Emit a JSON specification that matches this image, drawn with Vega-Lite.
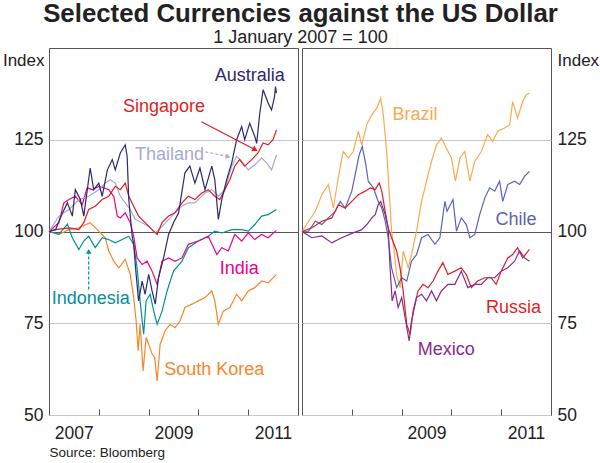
{
  "$schema": "https://vega.github.io/schema/vega-lite/v6.json",
  "description": "Selected currencies against the US dollar, two panels.",
  "padding": {"left": 1, "top": 0, "right": 0, "bottom": 0},
  "background": "white",
  "title": {
    "text": "Selected Currencies against the US Dollar",
    "subtitle": "1 January 2007 = 100",
    "anchor": "middle",
    "fontSize": 25.8,
    "fontWeight": "bold",
    "color": "#222",
    "subtitleFontSize": 18,
    "subtitleColor": "#222",
    "subtitlePadding": 1,
    "offset": 0
  },
  "spacing": 0,
  "datasets": {
    "left": [
      {"c": "South Korea", "d": "2007-01-01", "v": 100},
      {"c": "South Korea", "d": "2007-03-14", "v": 99.2},
      {"c": "South Korea", "d": "2007-05-27", "v": 100.5},
      {"c": "South Korea", "d": "2007-08-08", "v": 101},
      {"c": "South Korea", "d": "2007-10-30", "v": 102.4},
      {"c": "South Korea", "d": "2008-01-01", "v": 100.1},
      {"c": "South Korea", "d": "2008-02-18", "v": 98.3},
      {"c": "South Korea", "d": "2008-03-14", "v": 94.7},
      {"c": "South Korea", "d": "2008-04-20", "v": 91.9},
      {"c": "South Korea", "d": "2008-05-27", "v": 90.1},
      {"c": "South Korea", "d": "2008-07-13", "v": 92.4},
      {"c": "South Korea", "d": "2008-08-19", "v": 88.3},
      {"c": "South Korea", "d": "2008-09-13", "v": 82},
      {"c": "South Korea", "d": "2008-10-01", "v": 75.6},
      {"c": "South Korea", "d": "2008-10-16", "v": 67.5},
      {"c": "South Korea", "d": "2008-10-30", "v": 74.7},
      {"c": "South Korea", "d": "2008-11-21", "v": 62},
      {"c": "South Korea", "d": "2008-12-13", "v": 71.1},
      {"c": "South Korea", "d": "2009-01-01", "v": 69.3},
      {"c": "South Korea", "d": "2009-01-26", "v": 66.6},
      {"c": "South Korea", "d": "2009-02-14", "v": 65.7},
      {"c": "South Korea", "d": "2009-03-04", "v": 59.3},
      {"c": "South Korea", "d": "2009-03-26", "v": 69.3},
      {"c": "South Korea", "d": "2009-05-01", "v": 72.9},
      {"c": "South Korea", "d": "2009-06-07", "v": 74.7},
      {"c": "South Korea", "d": "2009-07-13", "v": 73.8},
      {"c": "South Korea", "d": "2009-08-19", "v": 75.6},
      {"c": "South Korea", "d": "2009-09-24", "v": 79.3},
      {"c": "South Korea", "d": "2009-11-14", "v": 80.2},
      {"c": "South Korea", "d": "2010-01-01", "v": 81.1},
      {"c": "South Korea", "d": "2010-02-18", "v": 82},
      {"c": "South Korea", "d": "2010-04-09", "v": 83.8},
      {"c": "South Korea", "d": "2010-05-01", "v": 81.1},
      {"c": "South Korea", "d": "2010-05-27", "v": 74.7},
      {"c": "South Korea", "d": "2010-07-02", "v": 78.3},
      {"c": "South Korea", "d": "2010-08-19", "v": 79.3},
      {"c": "South Korea", "d": "2010-10-08", "v": 82.9},
      {"c": "South Korea", "d": "2010-11-14", "v": 81.1},
      {"c": "South Korea", "d": "2011-01-01", "v": 83.8},
      {"c": "South Korea", "d": "2011-02-18", "v": 84.7},
      {"c": "South Korea", "d": "2011-04-09", "v": 86.5},
      {"c": "South Korea", "d": "2011-05-27", "v": 86},
      {"c": "South Korea", "d": "2011-07-27", "v": 88.3},

      {"c": "Indonesia", "d": "2007-01-01", "v": 100},
      {"c": "Indonesia", "d": "2007-03-14", "v": 99.2},
      {"c": "Indonesia", "d": "2007-05-16", "v": 102},
      {"c": "Indonesia", "d": "2007-06-21", "v": 98.3},
      {"c": "Indonesia", "d": "2007-08-08", "v": 95.1},
      {"c": "Indonesia", "d": "2007-09-13", "v": 97.4},
      {"c": "Indonesia", "d": "2007-10-19", "v": 98.7},
      {"c": "Indonesia", "d": "2007-12-06", "v": 95.6},
      {"c": "Indonesia", "d": "2008-01-26", "v": 98.3},
      {"c": "Indonesia", "d": "2008-03-14", "v": 97.8},
      {"c": "Indonesia", "d": "2008-05-01", "v": 96.9},
      {"c": "Indonesia", "d": "2008-06-21", "v": 97.8},
      {"c": "Indonesia", "d": "2008-08-08", "v": 98.7},
      {"c": "Indonesia", "d": "2008-09-13", "v": 96.5},
      {"c": "Indonesia", "d": "2008-10-08", "v": 90.1},
      {"c": "Indonesia", "d": "2008-10-30", "v": 81.1},
      {"c": "Indonesia", "d": "2008-11-25", "v": 72},
      {"c": "Indonesia", "d": "2008-12-13", "v": 81.1},
      {"c": "Indonesia", "d": "2009-01-12", "v": 82.9},
      {"c": "Indonesia", "d": "2009-02-07", "v": 78.3},
      {"c": "Indonesia", "d": "2009-03-04", "v": 74.7},
      {"c": "Indonesia", "d": "2009-04-09", "v": 78.3},
      {"c": "Indonesia", "d": "2009-05-16", "v": 83.8},
      {"c": "Indonesia", "d": "2009-07-02", "v": 89.2},
      {"c": "Indonesia", "d": "2009-09-02", "v": 91.9},
      {"c": "Indonesia", "d": "2009-10-19", "v": 95.6},
      {"c": "Indonesia", "d": "2010-01-01", "v": 97.4},
      {"c": "Indonesia", "d": "2010-03-14", "v": 98.7},
      {"c": "Indonesia", "d": "2010-05-01", "v": 100.1},
      {"c": "Indonesia", "d": "2010-06-21", "v": 99.6},
      {"c": "Indonesia", "d": "2010-09-02", "v": 100.5},
      {"c": "Indonesia", "d": "2010-11-14", "v": 100.5},
      {"c": "Indonesia", "d": "2011-01-01", "v": 100.1},
      {"c": "Indonesia", "d": "2011-02-18", "v": 101.9},
      {"c": "Indonesia", "d": "2011-04-09", "v": 104.2},
      {"c": "Indonesia", "d": "2011-05-27", "v": 104.6},
      {"c": "Indonesia", "d": "2011-07-27", "v": 106},

      {"c": "India", "d": "2007-01-01", "v": 100},
      {"c": "India", "d": "2007-03-14", "v": 102.4},
      {"c": "India", "d": "2007-04-20", "v": 107.8},
      {"c": "India", "d": "2007-05-27", "v": 108.7},
      {"c": "India", "d": "2007-07-13", "v": 109.6},
      {"c": "India", "d": "2007-09-02", "v": 107.3},
      {"c": "India", "d": "2007-10-08", "v": 111.9},
      {"c": "India", "d": "2007-11-14", "v": 111.4},
      {"c": "India", "d": "2008-01-01", "v": 112.3},
      {"c": "India", "d": "2008-02-07", "v": 111.9},
      {"c": "India", "d": "2008-03-14", "v": 111.4},
      {"c": "India", "d": "2008-04-20", "v": 109.6},
      {"c": "India", "d": "2008-05-16", "v": 104.2},
      {"c": "India", "d": "2008-06-07", "v": 103.7},
      {"c": "India", "d": "2008-07-13", "v": 105.1},
      {"c": "India", "d": "2008-08-19", "v": 102.4},
      {"c": "India", "d": "2008-09-13", "v": 98.7},
      {"c": "India", "d": "2008-10-08", "v": 92.8},
      {"c": "India", "d": "2008-11-14", "v": 91},
      {"c": "India", "d": "2008-12-20", "v": 91.9},
      {"c": "India", "d": "2009-01-26", "v": 89.2},
      {"c": "India", "d": "2009-03-04", "v": 85.6},
      {"c": "India", "d": "2009-04-09", "v": 91.9},
      {"c": "India", "d": "2009-05-27", "v": 92.8},
      {"c": "India", "d": "2009-07-13", "v": 91.9},
      {"c": "India", "d": "2009-09-02", "v": 92.8},
      {"c": "India", "d": "2009-10-19", "v": 96.5},
      {"c": "India", "d": "2010-01-01", "v": 97.4},
      {"c": "India", "d": "2010-03-14", "v": 98.7},
      {"c": "India", "d": "2010-05-16", "v": 93.7},
      {"c": "India", "d": "2010-06-21", "v": 95.6},
      {"c": "India", "d": "2010-08-08", "v": 94.7},
      {"c": "India", "d": "2010-09-24", "v": 99.2},
      {"c": "India", "d": "2010-11-14", "v": 97.4},
      {"c": "India", "d": "2011-01-01", "v": 99.6},
      {"c": "India", "d": "2011-02-18", "v": 97.8},
      {"c": "India", "d": "2011-04-09", "v": 99.2},
      {"c": "India", "d": "2011-05-27", "v": 98.3},
      {"c": "India", "d": "2011-07-27", "v": 100.3},

      {"c": "Thailand", "d": "2007-01-01", "v": 100},
      {"c": "Thailand", "d": "2007-03-14", "v": 104.2},
      {"c": "Thailand", "d": "2007-05-27", "v": 106},
      {"c": "Thailand", "d": "2007-08-08", "v": 108.7},
      {"c": "Thailand", "d": "2007-10-19", "v": 109.6},
      {"c": "Thailand", "d": "2008-01-01", "v": 111.4},
      {"c": "Thailand", "d": "2008-02-18", "v": 113.2},
      {"c": "Thailand", "d": "2008-03-26", "v": 114.1},
      {"c": "Thailand", "d": "2008-05-01", "v": 113.2},
      {"c": "Thailand", "d": "2008-06-07", "v": 109.6},
      {"c": "Thailand", "d": "2008-07-13", "v": 107.8},
      {"c": "Thailand", "d": "2008-08-19", "v": 106},
      {"c": "Thailand", "d": "2008-09-24", "v": 103.3},
      {"c": "Thailand", "d": "2008-11-14", "v": 102.4},
      {"c": "Thailand", "d": "2009-01-01", "v": 101.4},
      {"c": "Thailand", "d": "2009-02-18", "v": 99.6},
      {"c": "Thailand", "d": "2009-04-09", "v": 101.4},
      {"c": "Thailand", "d": "2009-05-27", "v": 103.3},
      {"c": "Thailand", "d": "2009-07-13", "v": 105.1},
      {"c": "Thailand", "d": "2009-09-02", "v": 106.9},
      {"c": "Thailand", "d": "2009-10-19", "v": 107.8},
      {"c": "Thailand", "d": "2009-12-06", "v": 107.8},
      {"c": "Thailand", "d": "2010-02-18", "v": 110.5},
      {"c": "Thailand", "d": "2010-04-09", "v": 111.4},
      {"c": "Thailand", "d": "2010-05-27", "v": 109.6},
      {"c": "Thailand", "d": "2010-07-13", "v": 111.4},
      {"c": "Thailand", "d": "2010-09-02", "v": 117.8},
      {"c": "Thailand", "d": "2010-10-08", "v": 120.5},
      {"c": "Thailand", "d": "2010-11-14", "v": 119.1},
      {"c": "Thailand", "d": "2011-01-01", "v": 116.8},
      {"c": "Thailand", "d": "2011-02-18", "v": 118.2},
      {"c": "Thailand", "d": "2011-04-09", "v": 120},
      {"c": "Thailand", "d": "2011-05-16", "v": 118.7},
      {"c": "Thailand", "d": "2011-06-21", "v": 116.8},
      {"c": "Thailand", "d": "2011-07-27", "v": 120.9},

      {"c": "Singapore", "d": "2007-01-01", "v": 100},
      {"c": "Singapore", "d": "2007-02-18", "v": 100.5},
      {"c": "Singapore", "d": "2007-05-27", "v": 101},
      {"c": "Singapore", "d": "2007-08-08", "v": 100.5},
      {"c": "Singapore", "d": "2007-09-13", "v": 102.4},
      {"c": "Singapore", "d": "2007-10-19", "v": 106},
      {"c": "Singapore", "d": "2007-12-06", "v": 106.9},
      {"c": "Singapore", "d": "2008-01-26", "v": 108.7},
      {"c": "Singapore", "d": "2008-03-14", "v": 109.6},
      {"c": "Singapore", "d": "2008-05-01", "v": 112.3},
      {"c": "Singapore", "d": "2008-06-07", "v": 111.4},
      {"c": "Singapore", "d": "2008-07-13", "v": 113.2},
      {"c": "Singapore", "d": "2008-08-08", "v": 109.6},
      {"c": "Singapore", "d": "2008-09-13", "v": 106.9},
      {"c": "Singapore", "d": "2008-10-19", "v": 104.2},
      {"c": "Singapore", "d": "2008-12-06", "v": 102.4},
      {"c": "Singapore", "d": "2009-01-26", "v": 100.5},
      {"c": "Singapore", "d": "2009-03-04", "v": 99.2},
      {"c": "Singapore", "d": "2009-04-09", "v": 102.4},
      {"c": "Singapore", "d": "2009-05-27", "v": 104.2},
      {"c": "Singapore", "d": "2009-07-13", "v": 105.1},
      {"c": "Singapore", "d": "2009-09-02", "v": 107.8},
      {"c": "Singapore", "d": "2009-10-19", "v": 109.6},
      {"c": "Singapore", "d": "2009-12-06", "v": 108.7},
      {"c": "Singapore", "d": "2010-01-26", "v": 110.5},
      {"c": "Singapore", "d": "2010-03-14", "v": 111.4},
      {"c": "Singapore", "d": "2010-05-01", "v": 109.6},
      {"c": "Singapore", "d": "2010-06-07", "v": 108.7},
      {"c": "Singapore", "d": "2010-07-13", "v": 111.4},
      {"c": "Singapore", "d": "2010-08-19", "v": 114.1},
      {"c": "Singapore", "d": "2010-09-24", "v": 117.8},
      {"c": "Singapore", "d": "2010-10-30", "v": 119.6},
      {"c": "Singapore", "d": "2010-12-06", "v": 117.8},
      {"c": "Singapore", "d": "2011-01-26", "v": 119.6},
      {"c": "Singapore", "d": "2011-03-14", "v": 121.4},
      {"c": "Singapore", "d": "2011-04-20", "v": 124.1},
      {"c": "Singapore", "d": "2011-05-27", "v": 123.6},
      {"c": "Singapore", "d": "2011-07-02", "v": 125},
      {"c": "Singapore", "d": "2011-07-27", "v": 127.7},

      {"c": "Australia", "d": "2007-01-01", "v": 100},
      {"c": "Australia", "d": "2007-02-18", "v": 100.5},
      {"c": "Australia", "d": "2007-04-09", "v": 105},
      {"c": "Australia", "d": "2007-05-16", "v": 107.8},
      {"c": "Australia", "d": "2007-06-21", "v": 104.2},
      {"c": "Australia", "d": "2007-07-13", "v": 111.4},
      {"c": "Australia", "d": "2007-08-19", "v": 108.7},
      {"c": "Australia", "d": "2007-09-13", "v": 104.2},
      {"c": "Australia", "d": "2007-10-30", "v": 117.3},
      {"c": "Australia", "d": "2007-11-25", "v": 111.4},
      {"c": "Australia", "d": "2008-01-01", "v": 113.2},
      {"c": "Australia", "d": "2008-01-26", "v": 109.6},
      {"c": "Australia", "d": "2008-03-04", "v": 116.8},
      {"c": "Australia", "d": "2008-04-09", "v": 119.6},
      {"c": "Australia", "d": "2008-05-01", "v": 116.8},
      {"c": "Australia", "d": "2008-06-07", "v": 121.4},
      {"c": "Australia", "d": "2008-07-13", "v": 123.6},
      {"c": "Australia", "d": "2008-07-27", "v": 120.5},
      {"c": "Australia", "d": "2008-08-08", "v": 108.7},
      {"c": "Australia", "d": "2008-09-02", "v": 98.7},
      {"c": "Australia", "d": "2008-09-13", "v": 96.5},
      {"c": "Australia", "d": "2008-10-01", "v": 88.3},
      {"c": "Australia", "d": "2008-10-19", "v": 81.1},
      {"c": "Australia", "d": "2008-11-14", "v": 86.5},
      {"c": "Australia", "d": "2008-12-06", "v": 82.9},
      {"c": "Australia", "d": "2009-01-01", "v": 88.3},
      {"c": "Australia", "d": "2009-01-26", "v": 83.8},
      {"c": "Australia", "d": "2009-02-18", "v": 80.2},
      {"c": "Australia", "d": "2009-03-14", "v": 87.4},
      {"c": "Australia", "d": "2009-04-20", "v": 92.8},
      {"c": "Australia", "d": "2009-05-27", "v": 99.2},
      {"c": "Australia", "d": "2009-07-02", "v": 102.4},
      {"c": "Australia", "d": "2009-08-08", "v": 105},
      {"c": "Australia", "d": "2009-09-24", "v": 116},
      {"c": "Australia", "d": "2009-10-30", "v": 117.8},
      {"c": "Australia", "d": "2009-12-06", "v": 113.2},
      {"c": "Australia", "d": "2010-01-12", "v": 117.3},
      {"c": "Australia", "d": "2010-02-18", "v": 111.4},
      {"c": "Australia", "d": "2010-04-09", "v": 117.8},
      {"c": "Australia", "d": "2010-05-01", "v": 114.1},
      {"c": "Australia", "d": "2010-05-27", "v": 103.3},
      {"c": "Australia", "d": "2010-06-21", "v": 108.7},
      {"c": "Australia", "d": "2010-07-27", "v": 114.1},
      {"c": "Australia", "d": "2010-09-02", "v": 118.7},
      {"c": "Australia", "d": "2010-10-08", "v": 125},
      {"c": "Australia", "d": "2010-11-14", "v": 128.6},
      {"c": "Australia", "d": "2010-12-06", "v": 125},
      {"c": "Australia", "d": "2011-01-12", "v": 129.5},
      {"c": "Australia", "d": "2011-02-18", "v": 125.9},
      {"c": "Australia", "d": "2011-03-04", "v": 124},
      {"c": "Australia", "d": "2011-03-26", "v": 132},
      {"c": "Australia", "d": "2011-04-20", "v": 138.6},
      {"c": "Australia", "d": "2011-05-27", "v": 135},
      {"c": "Australia", "d": "2011-06-21", "v": 133.1},
      {"c": "Australia", "d": "2011-07-13", "v": 136.8},
      {"c": "Australia", "d": "2011-07-20", "v": 139.5},
      {"c": "Australia", "d": "2011-07-27", "v": 137.7}
    ],
    "leftLabels": [
      {"c": "Australia", "d": "2011-01-12", "v": 142.4},
      {"c": "Singapore", "d": "2009-04-23", "v": 133.8},
      {"c": "Thailand", "d": "2009-06-03", "v": 120.9},
      {"c": "India", "d": "2010-10-27", "v": 89.7},
      {"c": "Indonesia", "d": "2007-11-03", "v": 81.5},
      {"c": "South Korea", "d": "2010-04-27", "v": 62.2}
    ],
    "arrows": [
      {"c": "Singapore", "d": "2010-01-23", "v": 129.9, "d2": "2011-02-21", "v2": 122.3},
      {"c": "Thailand", "d": "2010-02-21", "v": 121.7, "d2": "2010-08-07", "v2": 120.4},
      {"c": "Indonesia", "d": "2007-10-19", "v": 84.2, "d2": "2007-10-19", "v2": 94.6}
    ],
    "right": [
      {"c": "Brazil", "d": "2007-01-01", "v": 100},
      {"c": "Brazil", "d": "2007-02-18", "v": 102.8},
      {"c": "Brazil", "d": "2007-04-09", "v": 105.5},
      {"c": "Brazil", "d": "2007-05-27", "v": 110.1},
      {"c": "Brazil", "d": "2007-07-13", "v": 112.8},
      {"c": "Brazil", "d": "2007-08-19", "v": 106.4},
      {"c": "Brazil", "d": "2007-09-24", "v": 114.6},
      {"c": "Brazil", "d": "2007-10-30", "v": 121.8},
      {"c": "Brazil", "d": "2007-12-06", "v": 120},
      {"c": "Brazil", "d": "2008-01-12", "v": 121.8},
      {"c": "Brazil", "d": "2008-02-18", "v": 127.3},
      {"c": "Brazil", "d": "2008-03-14", "v": 123.6},
      {"c": "Brazil", "d": "2008-04-20", "v": 129.1},
      {"c": "Brazil", "d": "2008-05-27", "v": 131.8},
      {"c": "Brazil", "d": "2008-07-02", "v": 133.6},
      {"c": "Brazil", "d": "2008-07-31", "v": 136.3},
      {"c": "Brazil", "d": "2008-08-19", "v": 131.8},
      {"c": "Brazil", "d": "2008-09-13", "v": 121.8},
      {"c": "Brazil", "d": "2008-10-01", "v": 111},
      {"c": "Brazil", "d": "2008-10-19", "v": 100.1},
      {"c": "Brazil", "d": "2008-11-01", "v": 96.5},
      {"c": "Brazil", "d": "2008-11-25", "v": 88.3},
      {"c": "Brazil", "d": "2008-12-20", "v": 84.7},
      {"c": "Brazil", "d": "2009-01-12", "v": 94.7},
      {"c": "Brazil", "d": "2009-02-18", "v": 90.1},
      {"c": "Brazil", "d": "2009-03-14", "v": 93.7},
      {"c": "Brazil", "d": "2009-04-20", "v": 100.1},
      {"c": "Brazil", "d": "2009-05-27", "v": 108.2},
      {"c": "Brazil", "d": "2009-07-02", "v": 113.7},
      {"c": "Brazil", "d": "2009-08-08", "v": 119.1},
      {"c": "Brazil", "d": "2009-09-13", "v": 123.6},
      {"c": "Brazil", "d": "2009-10-19", "v": 125.5},
      {"c": "Brazil", "d": "2009-11-25", "v": 122.7},
      {"c": "Brazil", "d": "2010-01-01", "v": 120},
      {"c": "Brazil", "d": "2010-01-30", "v": 113.7},
      {"c": "Brazil", "d": "2010-03-04", "v": 120},
      {"c": "Brazil", "d": "2010-04-09", "v": 121.8},
      {"c": "Brazil", "d": "2010-05-16", "v": 113.7},
      {"c": "Brazil", "d": "2010-06-21", "v": 119.1},
      {"c": "Brazil", "d": "2010-08-08", "v": 121.8},
      {"c": "Brazil", "d": "2010-09-24", "v": 126.4},
      {"c": "Brazil", "d": "2010-10-30", "v": 124.5},
      {"c": "Brazil", "d": "2010-12-06", "v": 127.3},
      {"c": "Brazil", "d": "2011-01-26", "v": 128.2},
      {"c": "Brazil", "d": "2011-03-04", "v": 129.1},
      {"c": "Brazil", "d": "2011-03-26", "v": 135.4},
      {"c": "Brazil", "d": "2011-05-01", "v": 130.9},
      {"c": "Brazil", "d": "2011-06-07", "v": 135.4},
      {"c": "Brazil", "d": "2011-07-02", "v": 137.2},
      {"c": "Brazil", "d": "2011-07-27", "v": 137.7},

      {"c": "Chile", "d": "2007-01-01", "v": 100},
      {"c": "Chile", "d": "2007-02-18", "v": 100.1},
      {"c": "Chile", "d": "2007-04-09", "v": 102.8},
      {"c": "Chile", "d": "2007-05-27", "v": 101.9},
      {"c": "Chile", "d": "2007-07-13", "v": 103.7},
      {"c": "Chile", "d": "2007-09-02", "v": 105.5},
      {"c": "Chile", "d": "2007-10-08", "v": 108.2},
      {"c": "Chile", "d": "2007-11-14", "v": 106.4},
      {"c": "Chile", "d": "2008-01-01", "v": 111},
      {"c": "Chile", "d": "2008-01-26", "v": 115.5},
      {"c": "Chile", "d": "2008-02-25", "v": 121},
      {"c": "Chile", "d": "2008-03-18", "v": 123.2},
      {"c": "Chile", "d": "2008-04-13", "v": 118.2},
      {"c": "Chile", "d": "2008-05-01", "v": 113.7},
      {"c": "Chile", "d": "2008-06-07", "v": 111.9},
      {"c": "Chile", "d": "2008-07-13", "v": 108.2},
      {"c": "Chile", "d": "2008-08-08", "v": 106.4},
      {"c": "Chile", "d": "2008-09-02", "v": 102.8},
      {"c": "Chile", "d": "2008-09-24", "v": 98.3},
      {"c": "Chile", "d": "2008-10-19", "v": 90.1},
      {"c": "Chile", "d": "2008-11-25", "v": 84.7},
      {"c": "Chile", "d": "2009-01-01", "v": 87.4},
      {"c": "Chile", "d": "2009-02-07", "v": 86.5},
      {"c": "Chile", "d": "2009-03-14", "v": 91.9},
      {"c": "Chile", "d": "2009-04-20", "v": 93.7},
      {"c": "Chile", "d": "2009-05-27", "v": 98.3},
      {"c": "Chile", "d": "2009-07-13", "v": 99.2},
      {"c": "Chile", "d": "2009-09-02", "v": 96.5},
      {"c": "Chile", "d": "2009-10-08", "v": 98.3},
      {"c": "Chile", "d": "2009-11-14", "v": 108.2},
      {"c": "Chile", "d": "2009-11-30", "v": 105.5},
      {"c": "Chile", "d": "2010-01-12", "v": 108.7},
      {"c": "Chile", "d": "2010-02-07", "v": 100.1},
      {"c": "Chile", "d": "2010-03-14", "v": 103.7},
      {"c": "Chile", "d": "2010-04-20", "v": 101.9},
      {"c": "Chile", "d": "2010-05-16", "v": 98.3},
      {"c": "Chile", "d": "2010-06-21", "v": 99.2},
      {"c": "Chile", "d": "2010-07-27", "v": 104.6},
      {"c": "Chile", "d": "2010-09-02", "v": 109.1},
      {"c": "Chile", "d": "2010-10-08", "v": 111.9},
      {"c": "Chile", "d": "2010-11-14", "v": 111},
      {"c": "Chile", "d": "2010-12-20", "v": 113.7},
      {"c": "Chile", "d": "2011-01-12", "v": 108.2},
      {"c": "Chile", "d": "2011-02-18", "v": 112.8},
      {"c": "Chile", "d": "2011-04-09", "v": 113.7},
      {"c": "Chile", "d": "2011-05-16", "v": 112.8},
      {"c": "Chile", "d": "2011-06-21", "v": 115},
      {"c": "Chile", "d": "2011-07-27", "v": 116.4},

      {"c": "Russia", "d": "2007-01-01", "v": 100},
      {"c": "Russia", "d": "2007-03-14", "v": 101},
      {"c": "Russia", "d": "2007-05-27", "v": 102.8},
      {"c": "Russia", "d": "2007-08-08", "v": 103.7},
      {"c": "Russia", "d": "2007-09-24", "v": 107.3},
      {"c": "Russia", "d": "2007-11-14", "v": 106.4},
      {"c": "Russia", "d": "2008-01-01", "v": 108.2},
      {"c": "Russia", "d": "2008-02-18", "v": 110},
      {"c": "Russia", "d": "2008-04-09", "v": 111},
      {"c": "Russia", "d": "2008-05-16", "v": 111.9},
      {"c": "Russia", "d": "2008-06-21", "v": 111.4},
      {"c": "Russia", "d": "2008-07-20", "v": 113.2},
      {"c": "Russia", "d": "2008-08-08", "v": 111},
      {"c": "Russia", "d": "2008-09-02", "v": 105.5},
      {"c": "Russia", "d": "2008-09-24", "v": 101},
      {"c": "Russia", "d": "2008-10-19", "v": 98.3},
      {"c": "Russia", "d": "2008-11-25", "v": 94.7},
      {"c": "Russia", "d": "2008-12-20", "v": 90.1},
      {"c": "Russia", "d": "2009-01-12", "v": 83.8},
      {"c": "Russia", "d": "2009-02-07", "v": 74.7},
      {"c": "Russia", "d": "2009-03-04", "v": 72},
      {"c": "Russia", "d": "2009-03-26", "v": 78.3},
      {"c": "Russia", "d": "2009-05-01", "v": 83.8},
      {"c": "Russia", "d": "2009-06-07", "v": 85.6},
      {"c": "Russia", "d": "2009-07-13", "v": 84.7},
      {"c": "Russia", "d": "2009-08-19", "v": 86.5},
      {"c": "Russia", "d": "2009-09-24", "v": 89.2},
      {"c": "Russia", "d": "2009-10-30", "v": 91.5},
      {"c": "Russia", "d": "2009-12-06", "v": 88.3},
      {"c": "Russia", "d": "2010-01-26", "v": 89.2},
      {"c": "Russia", "d": "2010-03-14", "v": 90.1},
      {"c": "Russia", "d": "2010-04-20", "v": 88.3},
      {"c": "Russia", "d": "2010-05-27", "v": 84.7},
      {"c": "Russia", "d": "2010-07-13", "v": 86.5},
      {"c": "Russia", "d": "2010-09-02", "v": 87.4},
      {"c": "Russia", "d": "2010-10-19", "v": 87.4},
      {"c": "Russia", "d": "2010-11-25", "v": 85.6},
      {"c": "Russia", "d": "2011-01-01", "v": 89.2},
      {"c": "Russia", "d": "2011-02-18", "v": 92.8},
      {"c": "Russia", "d": "2011-03-26", "v": 93.7},
      {"c": "Russia", "d": "2011-05-01", "v": 95.6},
      {"c": "Russia", "d": "2011-06-07", "v": 92.8},
      {"c": "Russia", "d": "2011-07-27", "v": 95.1},

      {"c": "Mexico", "d": "2007-01-01", "v": 100},
      {"c": "Mexico", "d": "2007-03-14", "v": 98.3},
      {"c": "Mexico", "d": "2007-05-27", "v": 98.8},
      {"c": "Mexico", "d": "2007-08-08", "v": 96.9},
      {"c": "Mexico", "d": "2007-10-19", "v": 98.3},
      {"c": "Mexico", "d": "2008-01-01", "v": 99.5},
      {"c": "Mexico", "d": "2008-03-14", "v": 100.5},
      {"c": "Mexico", "d": "2008-04-20", "v": 101.9},
      {"c": "Mexico", "d": "2008-05-27", "v": 103.7},
      {"c": "Mexico", "d": "2008-06-21", "v": 104.6},
      {"c": "Mexico", "d": "2008-07-13", "v": 107.3},
      {"c": "Mexico", "d": "2008-07-31", "v": 108.2},
      {"c": "Mexico", "d": "2008-09-02", "v": 104.6},
      {"c": "Mexico", "d": "2008-09-24", "v": 101},
      {"c": "Mexico", "d": "2008-10-08", "v": 90.1},
      {"c": "Mexico", "d": "2008-10-23", "v": 81.1},
      {"c": "Mexico", "d": "2008-11-14", "v": 83.8},
      {"c": "Mexico", "d": "2008-12-06", "v": 79.3},
      {"c": "Mexico", "d": "2009-01-01", "v": 82},
      {"c": "Mexico", "d": "2009-01-26", "v": 76.5},
      {"c": "Mexico", "d": "2009-02-25", "v": 70.2},
      {"c": "Mexico", "d": "2009-03-14", "v": 75.6},
      {"c": "Mexico", "d": "2009-04-20", "v": 82},
      {"c": "Mexico", "d": "2009-05-27", "v": 82.9},
      {"c": "Mexico", "d": "2009-07-02", "v": 81.1},
      {"c": "Mexico", "d": "2009-08-08", "v": 83.8},
      {"c": "Mexico", "d": "2009-09-13", "v": 81.1},
      {"c": "Mexico", "d": "2009-10-19", "v": 83.8},
      {"c": "Mexico", "d": "2009-12-06", "v": 85.6},
      {"c": "Mexico", "d": "2010-01-26", "v": 85.6},
      {"c": "Mexico", "d": "2010-03-14", "v": 89.2},
      {"c": "Mexico", "d": "2010-05-01", "v": 84.7},
      {"c": "Mexico", "d": "2010-06-21", "v": 85.6},
      {"c": "Mexico", "d": "2010-08-08", "v": 85.6},
      {"c": "Mexico", "d": "2010-09-24", "v": 87.4},
      {"c": "Mexico", "d": "2010-11-14", "v": 87.4},
      {"c": "Mexico", "d": "2011-01-01", "v": 89.2},
      {"c": "Mexico", "d": "2011-02-18", "v": 90.1},
      {"c": "Mexico", "d": "2011-04-09", "v": 91.9},
      {"c": "Mexico", "d": "2011-05-16", "v": 94.7},
      {"c": "Mexico", "d": "2011-06-21", "v": 92.8},
      {"c": "Mexico", "d": "2011-07-27", "v": 91.9}
    ],
    "rightLabels": [
      {"c": "Brazil", "d": "2009-04-08", "v": 131.7},
      {"c": "Chile", "d": "2011-04-19", "v": 103.1},
      {"c": "Russia", "d": "2011-04-01", "v": 79.2},
      {"c": "Mexico", "d": "2009-11-24", "v": 67.8}
    ]
  },
  "hconcat": [
    {
      "width": 249,
      "height": 367,
      "encoding": {
        "x": {
          "field": "d",
          "type": "temporal",
          "scale": {
            "type": "utc",
            "domain": [
              {"year": 2007, "month": 1, "date": 1, "utc": true},
              {"year": 2012, "month": 1, "date": 1, "utc": true}
            ]
          },
          "axis": {
            "values": [
              {"year": 2008, "month": 1, "date": 1, "utc": true},
              {"year": 2009, "month": 1, "date": 1, "utc": true},
              {"year": 2010, "month": 1, "date": 1, "utc": true},
              {"year": 2011, "month": 1, "date": 1, "utc": true},
              {"year": 2012, "month": 1, "date": 1, "utc": true}
            ],
            "labelExpr": "utcyear(datum.value) % 2 == 0 ? '' + (utcyear(datum.value) - 1) : ''",
            "labelOffset": -25,
            "labelFlush": false,
            "labelOverlap": false,
            "grid": false,
            "domain": false,
            "tickSize": -6,
            "tickColor": "#555",
            "labelPadding": 15,
            "labelFontSize": 17.5,
            "title": "Source: Bloomberg",
            "titleAnchor": "start",
            "titleAlign": "left",
            "titleFontSize": 13.5,
            "titleFontWeight": "normal",
            "titlePadding": 4
          }
        },
        "y": {
          "field": "v",
          "type": "quantitative",
          "scale": {"domain": [50, 150], "nice": false, "zero": false},
          "axis": {
            "orient": "left",
            "values": [50, 75, 100, 125],
            "grid": true,
            "gridColor": {"condition": {"test": "datum.value === 100", "value": "#555"}, "value": "#c8c8c8"},
            "ticks": false,
            "domain": false,
            "labelPadding": 6,
            "labelFontSize": 17.5,
            "title": "Index",
            "titleAngle": 0,
            "titleAlign": "right",
            "titleBaseline": "top",
            "titleX": -5,
            "titleY": 4,
            "titleFontSize": 17,
            "titleFontWeight": "normal"
          }
        }
      },
      "layer": [
        {
          "data": {"name": "left"},
          "mark": {"type": "line", "strokeWidth": 1.2},
          "encoding": {
            "color": {
              "field": "c",
              "type": "nominal",
              "legend": null,
              "scale": {
                "domain": ["South Korea", "Indonesia", "India", "Thailand", "Singapore", "Australia"],
                "range": ["#f7862a", "#00909e", "#ec008c", "#a8a9d8", "#dc1f26", "#2d2a6b"]
              }
            }
          }
        },
        {
          "data": {"name": "arrows"},
          "transform": [{"filter": "datum.c == 'Singapore'"}],
          "mark": {"type": "rule", "strokeWidth": 1.2, "color": "#dc1f26"},
          "encoding": {"x2": {"field": "d2"}, "y2": {"field": "v2"}}
        },
        {
          "data": {"name": "arrows"},
          "transform": [{"filter": "datum.c != 'Singapore'"}],
          "mark": {"type": "rule", "strokeWidth": 1.2, "strokeDash": [3, 2]},
          "encoding": {
            "x2": {"field": "d2"},
            "y2": {"field": "v2"},
            "color": {"field": "c", "type": "nominal", "legend": null}
          }
        },
        {
          "data": {"name": "arrows"},
          "transform": [{"filter": "datum.c == 'Singapore'"}],
          "mark": {"type": "point", "shape": "triangle-right", "angle": 27, "filled": true, "size": 40, "opacity": 1, "color": "#dc1f26"},
          "encoding": {"x": {"field": "d2", "type": "temporal"}, "y": {"field": "v2", "type": "quantitative"}}
        },
        {
          "data": {"name": "arrows"},
          "transform": [{"filter": "datum.c == 'Thailand'"}],
          "mark": {"type": "point", "shape": "triangle-right", "angle": 12, "filled": true, "size": 30, "opacity": 1, "color": "#a8a9d8"},
          "encoding": {"x": {"field": "d2", "type": "temporal"}, "y": {"field": "v2", "type": "quantitative"}}
        },
        {
          "data": {"name": "arrows"},
          "transform": [{"filter": "datum.c == 'Indonesia'"}],
          "mark": {"type": "point", "shape": "triangle-up", "filled": true, "size": 30, "opacity": 1, "color": "#00909e"},
          "encoding": {"x": {"field": "d2", "type": "temporal"}, "y": {"field": "v2", "type": "quantitative"}}
        },
        {
          "data": {"name": "leftLabels"},
          "mark": {"type": "text", "fontSize": 18, "align": "center", "baseline": "middle"},
          "encoding": {
            "text": {"field": "c"},
            "color": {"field": "c", "type": "nominal", "legend": null}
          }
        }
      ]
    },
    {
      "width": 249,
      "height": 367,
      "encoding": {
        "x": {
          "field": "d",
          "type": "temporal",
          "scale": {
            "type": "utc",
            "domain": [
              {"year": 2007, "month": 1, "date": 1, "utc": true},
              {"year": 2012, "month": 1, "date": 1, "utc": true}
            ]
          },
          "axis": {
            "values": [
              {"year": 2008, "month": 1, "date": 1, "utc": true},
              {"year": 2009, "month": 1, "date": 1, "utc": true},
              {"year": 2010, "month": 1, "date": 1, "utc": true},
              {"year": 2011, "month": 1, "date": 1, "utc": true},
              {"year": 2012, "month": 1, "date": 1, "utc": true}
            ],
            "labelExpr": "utcyear(datum.value) == 2010 || utcyear(datum.value) == 2012 ? '' + (utcyear(datum.value) - 1) : ''",
            "labelOffset": -25,
            "labelFlush": false,
            "labelOverlap": false,
            "grid": false,
            "domain": false,
            "tickSize": -6,
            "tickColor": "#555",
            "labelPadding": 15,
            "labelFontSize": 17.5,
            "title": null
          }
        },
        "y": {
          "field": "v",
          "type": "quantitative",
          "scale": {"domain": [50, 150], "nice": false, "zero": false},
          "axis": {
            "orient": "right",
            "values": [50, 75, 100, 125],
            "grid": true,
            "gridColor": {"condition": {"test": "datum.value === 100", "value": "#555"}, "value": "#c8c8c8"},
            "ticks": false,
            "domain": false,
            "labelPadding": 6,
            "labelFontSize": 17.5,
            "title": "Index",
            "titleAngle": 0,
            "titleAlign": "left",
            "titleBaseline": "top",
            "titleX": 6,
            "titleY": 4,
            "titleFontSize": 17,
            "titleFontWeight": "normal"
          }
        }
      },
      "layer": [
        {
          "data": {"name": "right"},
          "mark": {"type": "line", "strokeWidth": 1.2},
          "encoding": {
            "color": {
              "field": "c",
              "type": "nominal",
              "legend": null,
              "scale": {
                "domain": ["Brazil", "Chile", "Russia", "Mexico"],
                "range": ["#fbaa50", "#5c62b5", "#de1f26", "#8b2a8e"]
              }
            }
          }
        },
        {
          "data": {"name": "rightLabels"},
          "mark": {"type": "text", "fontSize": 18, "align": "center", "baseline": "middle"},
          "encoding": {
            "text": {"field": "c"},
            "color": {"field": "c", "type": "nominal", "legend": null}
          }
        }
      ]
    }
  ],
  "resolve": {"scale": {"color": "independent"}},
  "config": {
    "font": "Liberation Sans",
    "view": {"stroke": "#555", "strokeWidth": 1},
    "axis": {"labelColor": "#222", "titleColor": "#222", "labelFont": "Liberation Sans", "titleFont": "Liberation Sans"},
    "title": {"font": "Liberation Sans", "subtitleFont": "Liberation Sans"},
    "text": {"font": "Liberation Sans"}
  }
}
